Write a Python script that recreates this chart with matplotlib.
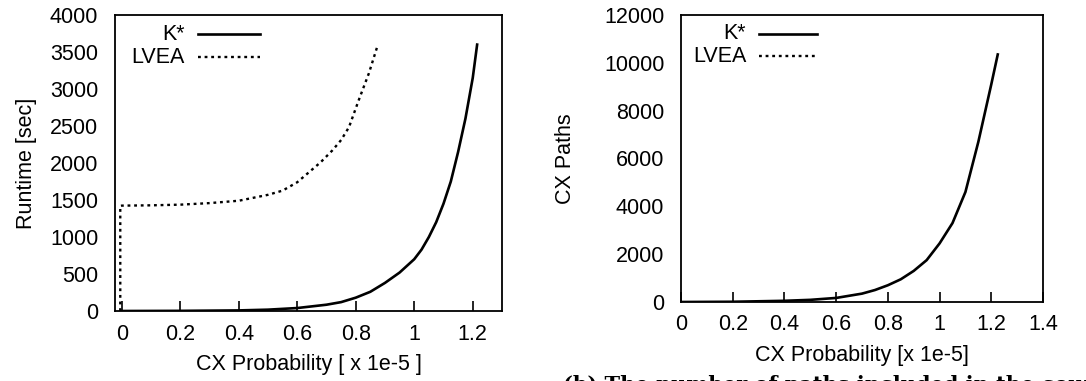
import matplotlib
matplotlib.use("Agg")
import matplotlib.pyplot as plt
from matplotlib.lines import Line2D

plt.rcParams['font.family'] = ['Liberation Sans', 'DejaVu Sans']

# runtime panel
kstar_prob = [0.0, 0.2, 0.4, 0.5, 0.6, 0.7, 0.75, 0.8, 0.85, 0.9, 0.95, 1.0, 1.025,
              1.05, 1.075, 1.1, 1.125, 1.15, 1.175, 1.2, 1.215]
kstar_runtime = [0, 2, 8, 18, 40, 85, 120, 180, 260, 380, 520, 700, 830,
                 1000, 1200, 1450, 1750, 2150, 2600, 3150, 3600]

lvea_prob = [-0.005, -0.005, 0.0, 0.1, 0.2, 0.3, 0.4, 0.5, 0.55, 0.6, 0.64, 0.68,
             0.72, 0.75, 0.777, 0.81, 0.845, 0.873]
lvea_runtime = [0, 1420, 1424, 1428, 1437, 1458, 1490, 1570, 1627, 1740, 1875, 2010,
                2170, 2310, 2485, 2847, 3213, 3566]

# paths panel
paths_prob = [0.0, 0.2, 0.4, 0.5, 0.6, 0.7, 0.75, 0.8, 0.85, 0.9, 0.95, 1.0, 1.05,
              1.1, 1.15, 1.2, 1.225]
paths_count = [0, 10, 50, 90, 170, 350, 500, 700, 950, 1300, 1750, 2450, 3300,
               4600, 6700, 9100, 10350]

legend_names = ['K*', 'LVEA']
kstar_style = dict(color='black', lw=1.9, ls='-')
lvea_style = dict(color='black', lw=1.7, ls=(0, (1.2, 1.6)))

FS = 15.5


def draw_key(ax):
    # gnuplot style key: right aligned text, sample line to the right
    for i, (name, style) in enumerate(zip(legend_names, [kstar_style, lvea_style])):
        y = 0.935 - i * 0.078
        ax.text(0.18, y, name, transform=ax.transAxes, ha='right', va='center', fontsize=FS)
        ax.add_line(Line2D([0.215, 0.375], [y, y], transform=ax.transAxes, **style))


def style_axes(ax):
    ax.tick_params(axis='x', direction='in', length=7, width=1.2, pad=9, labelsize=FS, top=False)
    ax.tick_params(axis='y', length=0, pad=12, labelsize=FS, right=False)
    for s in ax.spines.values():
        s.set_linewidth(1.3)


fig = plt.figure(figsize=(10.86, 3.81), dpi=100)

ax1 = fig.add_axes([115 / 1086, 1 - 311 / 381, 387 / 1086, 296 / 381])
ax1.plot(kstar_prob, kstar_runtime, **kstar_style)
ax1.plot(lvea_prob, lvea_runtime, **lvea_style)
ax1.set_xlim(-0.023, 1.3)
ax1.set_ylim(0, 4000)
ax1.set_xticks([0, 0.2, 0.4, 0.6, 0.8, 1.0, 1.2])
ax1.set_xticklabels(['0', '0.2', '0.4', '0.6', '0.8', '1', '1.2'])
ax1.set_yticks(range(0, 4001, 500))
ax1.set_xlabel('CX Probability [ x 1e-5 ]', fontsize=FS, labelpad=7)
ax1.set_ylabel('Runtime [sec]', fontsize=FS, labelpad=9)
style_axes(ax1)
draw_key(ax1)

ax2 = fig.add_axes([681 / 1086, 1 - 302 / 381, 362 / 1086, 287 / 381])
ax2.plot(paths_prob, paths_count, **kstar_style)
ax2.set_xlim(0, 1.4)
ax2.set_ylim(0, 12000)
ax2.set_xticks([0, 0.2, 0.4, 0.6, 0.8, 1.0, 1.2, 1.4])
ax2.set_xticklabels(['0', '0.2', '0.4', '0.6', '0.8', '1', '1.2', '1.4'])
ax2.set_yticks(range(0, 12001, 2000))
ax2.set_xlabel('CX Probability [x 1e-5]', fontsize=FS, labelpad=7)
ax2.set_ylabel('CX Paths', fontsize=FS, labelpad=20)
style_axes(ax2)
draw_key(ax2)

# caption, cut off at the bottom of the image as in the source
fig.text(563 / 1086, 1 - 375 / 381, '(b) The number of paths included in the counterexample',
         ha='left', va='top', fontsize=15, fontweight='bold', family='DejaVu Serif')

fig.savefig('out.png', dpi=100)
